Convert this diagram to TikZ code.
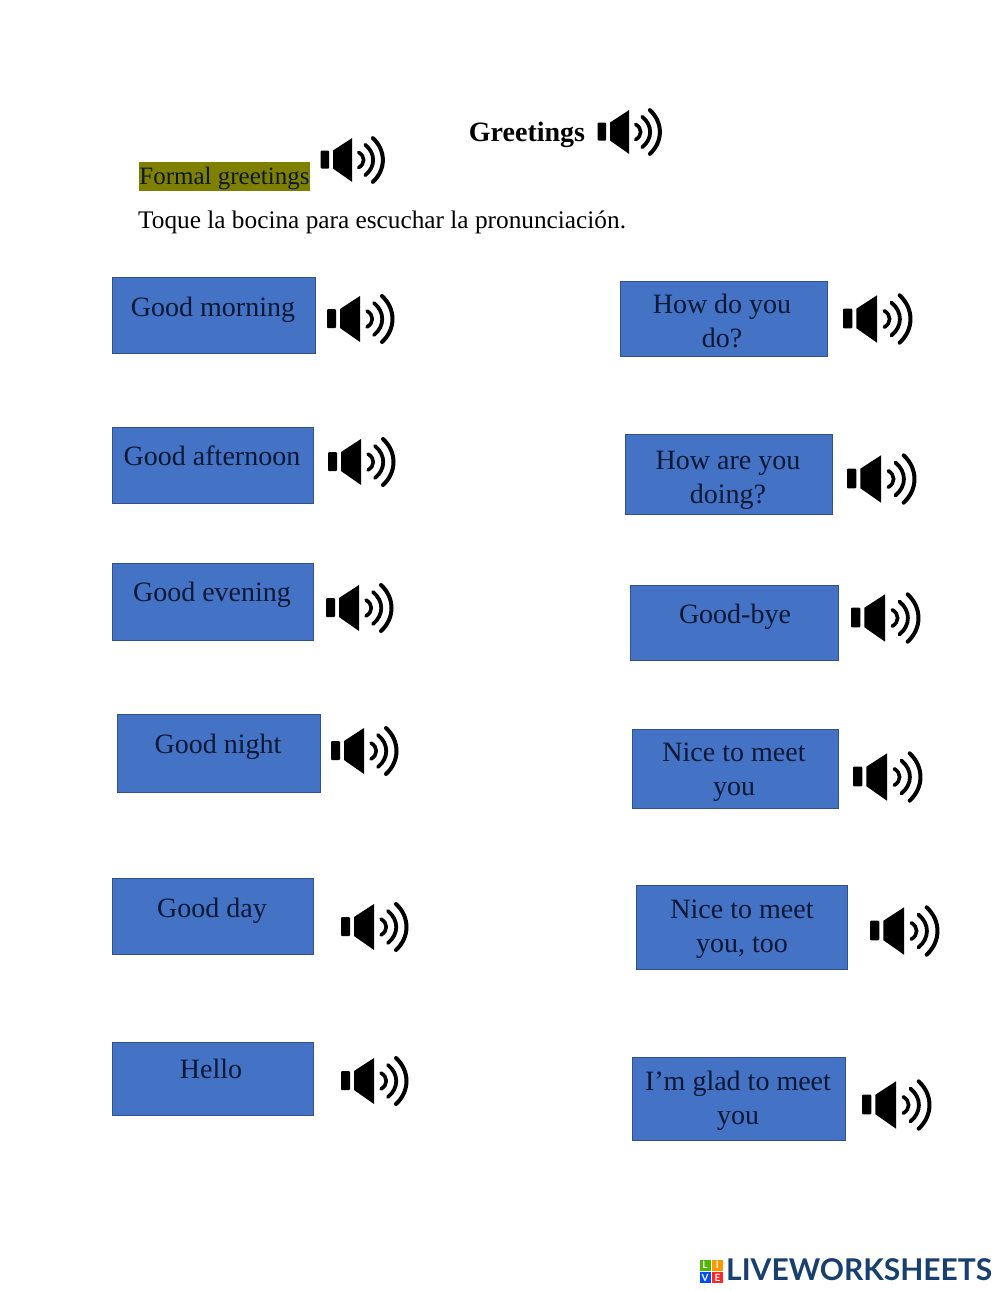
\documentclass[tikz,border=0pt]{standalone}
\usepackage{fontspec}
\setmainfont{Liberation Serif}
\newfontfamily\logofont{Lato}
\usepackage{tikz}
\usetikzlibrary{positioning}
\definecolor{boxblue}{HTML}{4472C4}
\definecolor{boxline}{HTML}{2F528F}
\definecolor{boxtext}{HTML}{0B1836}
\definecolor{marker}{HTML}{808000}
\definecolor{logonavy}{HTML}{17406F}

\tikzset{
  speaker/.pic={
    \fill[black,rounded corners=1pt] (-33,-10) rectangle (-24,9);
    \fill[black] (-20,-10) -- (0,-23) -- (0,23) -- (-20,9) -- cycle;
    \draw[black,line width=3.6pt,line cap=round] (7,-8) .. controls (14,-4) and (14,4) .. (7,8);
    \draw[black,line width=3.8pt,line cap=round] (14,-16) .. controls (25,-7) and (25,7) .. (14,16);
    \draw[black,line width=4pt,line cap=round] (22,-23) .. controls (36,-10) and (36,10) .. (22,23);
  },
  greetbox/.style={draw=boxline,fill=boxblue,line width=1pt,inner sep=0pt},
  greettext/.style={text=boxtext,font=\fontsize{28}{34}\selectfont,align=center,inner sep=0pt,yshift=-2pt},
  plaintext/.style={text=black,font=\fontsize{25.3}{30}\selectfont,inner sep=0pt},
  logotile/.style={minimum size=11pt,inner sep=0pt,text=white,font=\logofont\bfseries\fontsize{10}{10}\selectfont}
}

\begin{document}
\begin{tikzpicture}[x=1pt,y=-1pt]
   \useasboundingbox (0,0) rectangle (1000,1291);

   \node[plaintext,font=\bfseries\fontsize{28}{30}\selectfont] (title) at (527,135) {Greetings};
   \pic at (629,132) [scale=.95] {speaker};
   \node[fill=marker,minimum width=171pt,minimum height=29pt,inner sep=0pt] (formal) at (224.5,176.5) {};
   \node[plaintext,text=boxtext,font=\fontsize{25}{30}\selectfont] (formaltxt) at (224.5,179) {Formal greetings};
   \pic at (352,160) [scale=.95] {speaker};
   \node[plaintext,anchor=west] (touch) at (138,222) {Toque la bocina para escuchar la pronunciación.};

   % left column
   \node[greetbox,minimum width=203pt,minimum height=76pt] (morning) at (214,315.5) {};
   \node[greettext] (morningtxt) at (213,308) {Good morning};
   \pic at (360,319) {speaker};

   \node[greetbox,minimum width=201pt,minimum height=76pt] (afternoon) at (213,465.5) {};
   \node[greettext] (afternoontxt) at (212,454) {Good afternoon};
   \pic at (361,462) {speaker};

   \node[greetbox,minimum width=201pt,minimum height=77pt] (evening) at (213,602) {};
   \node[greettext] (eveningtxt) at (212,593) {Good evening};
   \pic at (359,608) {speaker};

   \node[greetbox,minimum width=203pt,minimum height=78pt] (night) at (219,753.5) {};
   \node[greettext] (nighttxt) at (218,745) {Good night};
   \pic at (364,751) {speaker};

   \node[greetbox,minimum width=201pt,minimum height=76pt] (day) at (213,916.5) {};
   \node[greettext] (daytxt) at (212,909) {Good day};
   \pic at (374,927) {speaker};

   \node[greetbox,minimum width=201pt,minimum height=73pt] (hello) at (213,1079) {};
   \node[greettext] (hellotxt) at (211,1067) {Hello};
   \pic at (374,1081) {speaker};

   % right column
   \node[greetbox,minimum width=207pt,minimum height=75pt] (howdo) at (724,319) {};
   \node[greettext] (howdotxt) at (722,319) {How do you\\do?};
   \pic at (877,319) [scale=1.03] {speaker};

   \node[greetbox,minimum width=207pt,minimum height=80pt] (howare) at (729,474.5) {};
   \node[greettext] (howaretxt) at (728,478) {How are you\\doing?};
   \pic at (881,479) [scale=1.03] {speaker};

   \node[greetbox,minimum width=208pt,minimum height=75pt] (goodbye) at (734.5,623) {};
   \node[greettext] (goodbyetxt) at (735,615) {Good-bye};
   \pic at (885,618) [scale=1.03] {speaker};

   \node[greetbox,minimum width=206pt,minimum height=79pt] (nice) at (735.5,769) {};
   \node[greettext] (nicetxt) at (734,770) {Nice to meet\\you};
   \pic at (887,777) [scale=1.03] {speaker};

   \node[greetbox,minimum width=211pt,minimum height=84pt] (nicetoo) at (742,927.5) {};
   \node[greettext] (nicetootxt) at (742,927.5) {Nice to meet\\you, too};
   \pic at (904,931) [scale=1.03] {speaker};

   \node[greetbox,minimum width=213pt,minimum height=83pt] (glad) at (739,1099) {};
   \node[greettext] (gladtxt) at (738,1099) {I’m glad to meet\\you};
   \pic at (896,1105) [scale=1.03] {speaker};

   % logo
   \node[logotile,fill=green!60!black!70!yellow] (tileL) at (705,1265) {L};
   \node[logotile,fill=orange!80!yellow,right=1pt of tileL] (tileI) {I};
   \node[logotile,fill=blue!70!cyan,below=1pt of tileL] (tileV) {V};
   \node[logotile,fill=red!80!pink,right=1pt of tileV] (tileE) {E};
   \node[inner sep=0pt,text=logonavy,font=\logofont\bfseries\fontsize{33}{33}\selectfont,anchor=west] (logo) at (726,1270) {\resizebox{266pt}{!}{\resizebox{!}{24pt}{LIVEWORKSHEETS}}};
\end{tikzpicture}
\end{document}
